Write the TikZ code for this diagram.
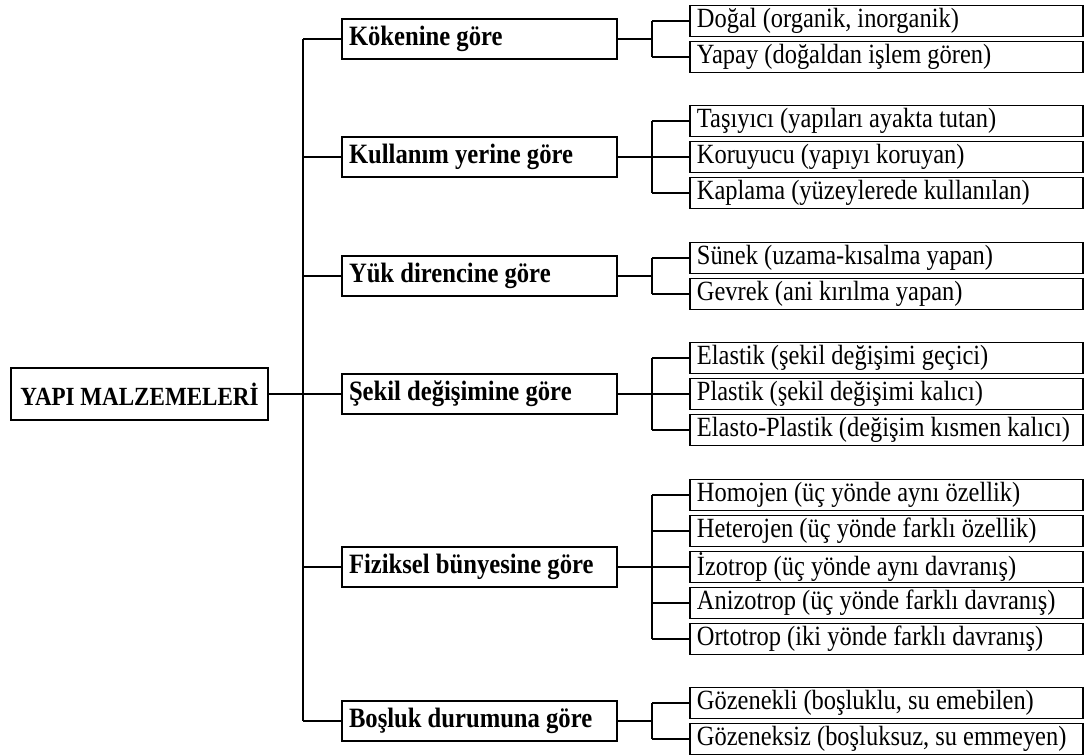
\documentclass[tikz,border=0pt]{standalone}
\usepackage{fontspec}
% slightly narrowed glyphs, set larger, give the tall look of the lettering
\setmainfont{Liberation Serif}[FakeStretch=0.88]
\begin{document}
\begin{tikzpicture}[x=0.5pt,y=-0.5pt,
  rootbox/.style={draw, line width=1pt, minimum width=128.5pt, minimum height=26pt,
    inner sep=0pt, font=\fontsize{13.1}{15}\selectfont\bfseries},
  catbox/.style={draw, line width=1pt, anchor=west, minimum width=137.5pt,
    minimum height=20pt, inner xsep=3.5pt, inner ysep=0pt,
    font=\fontsize{14.0}{16}\selectfont\bfseries},
  leafbox/.style={draw, line width=0.9pt, anchor=west, minimum width=196.5pt,
    minimum height=15.5pt, inner xsep=3.5pt, inner ysep=0pt,
    font=\fontsize{13.9}{16}\selectfont},
  link/.style={line width=1pt}]
\useasboundingbox (0,0) rectangle (1084,756);
\newcommand\cattext[1]{\makebox[130.5pt][l]{#1}}
\newcommand\leaftext[1]{\makebox[189.5pt][l]{#1}}

% root
\node[rootbox] (root) at (139.5,394) {YAPI MALZEMELERİ};

% categories
\node[catbox] (c1) at (341,39)  {\cattext{Kökenine göre}};
\node[catbox] (c2) at (341,157) {\cattext{Kullanım yerine göre}};
\node[catbox] (c3) at (341,276) {\cattext{Yük direncine göre}};
\node[catbox] (c4) at (341,394) {\cattext{Şekil değişimine göre}};
\node[catbox] (c5) at (341,567) {\cattext{Fiziksel bünyesine göre}};
\node[catbox] (c6) at (341,721) {\cattext{Boşluk durumuna göre}};

% leaves
\node[leafbox] (c1a) at (689,21)  {\leaftext{Doğal (organik, inorganik)}};
\node[leafbox] (c1b) at (689,57)  {\leaftext{Yapay (doğaldan işlem gören)}};

\node[leafbox] (c2a) at (689,121) {\leaftext{Taşıyıcı (yapıları ayakta tutan)}};
\node[leafbox] (c2b) at (689,157) {\leaftext{Koruyucu (yapıyı koruyan)}};
\node[leafbox] (c2c) at (689,193) {\leaftext{Kaplama (yüzeylerede kullanılan)}};

\node[leafbox] (c3a) at (689,258) {\leaftext{Sünek (uzama-kısalma yapan)}};
\node[leafbox] (c3b) at (689,294) {\leaftext{Gevrek (ani kırılma yapan)}};

\node[leafbox] (c4a) at (689,358) {\leaftext{Elastik (şekil değişimi geçici)}};
\node[leafbox] (c4b) at (689,394) {\leaftext{Plastik (şekil değişimi kalıcı)}};
\node[leafbox] (c4c) at (689,430) {\leaftext{Elasto-Plastik (değişim kısmen kalıcı)}};

\node[leafbox] (c5a) at (689,495) {\leaftext{Homojen (üç yönde aynı özellik)}};
\node[leafbox] (c5b) at (689,531) {\leaftext{Heterojen (üç yönde farklı özellik)}};
\node[leafbox] (c5c) at (689,567) {\leaftext{İzotrop (üç yönde aynı davranış)}};
\node[leafbox] (c5d) at (689,603) {\leaftext{Anizotrop (üç yönde farklı davranış)}};
\node[leafbox] (c5e) at (689,639) {\leaftext{Ortotrop (iki yönde farklı davranış)}};

\node[leafbox] (c6a) at (689,703) {\leaftext{Gözenekli (boşluklu, su emebilen)}};
\node[leafbox] (c6b) at (689,739) {\leaftext{Gözeneksiz (boşluksuz, su emmeyen)}};

% spine from the root to the categories
\coordinate (spine) at (303,394);
\draw[link] (root.east) -- (spine);
\draw[link] (c1.west -| spine) -- (c6.west -| spine);
\foreach \c in {c1,c2,c3,c4,c5,c6}
  \draw[link] (\c.west -| spine) -- (\c.west);

% branches from each category to its leaves
\coordinate (fork) at (652,0);
\foreach \c/\first/\last/\leaves in {
    c1/c1a/c1b/{c1a,c1b},
    c2/c2a/c2c/{c2a,c2b,c2c},
    c3/c3a/c3b/{c3a,c3b},
    c4/c4a/c4c/{c4a,c4b,c4c},
    c5/c5a/c5e/{c5a,c5b,c5c,c5d,c5e},
    c6/c6a/c6b/{c6a,c6b}} {
  \draw[link] (\c.east) -- (\c.east -| fork);
  \draw[link] (\first.west -| fork) -- (\last.west -| fork);
  \foreach \l in \leaves
    \draw[link] (\l.west -| fork) -- (\l.west);
}
\end{tikzpicture}
\end{document}
